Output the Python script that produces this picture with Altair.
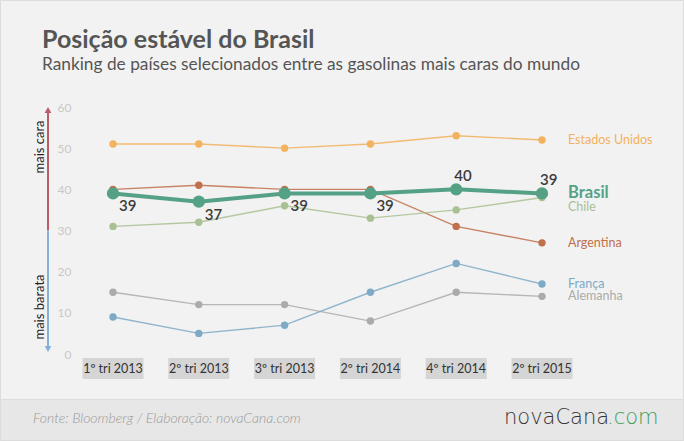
import altair as alt
import pandas as pd

# Quarters shown on the horizontal axis
periods = ["1º tri 2013", "2º tri 2013", "3º tri 2013", "2º tri 2014", "4º tri 2014", "2º tri 2015"]

# Position in the ranking of the most expensive gasoline (higher = more expensive)
estados_unidos = [51, 51, 50, 51, 53, 52]
argentina = [40, 41, 40, 40, 31, 27]
chile = [31, 32, 36, 33, 35, 38]
alemanha = [15, 12, 12, 8, 15, 14]
franca = [9, 5, 7, 15, 22, 17]
brasil = [39, 37, 39, 39, 40, 39]

countries = ["Estados Unidos", "Argentina", "Chile", "Alemanha", "França"]
series = [estados_unidos, argentina, chile, alemanha, franca]
colors = ["#f2b25e", "#c0704a", "#a9c192", "#ababab", "#7eaac6"]
brasil_color = "#55a185"

rows = []
for name, vals in zip(countries, series):
    for p, v in zip(periods, vals):
        rows.append({"pais": name, "periodo": p, "rank": v})
others = pd.DataFrame(rows)
br = pd.DataFrame({"pais": "Brasil", "periodo": periods, "rank": brasil})
last = pd.DataFrame({"pais": countries, "periodo": periods[-1],
                     "rank": [s[-1] for s in series]})
br_last = br.tail(1)

W, H = 482, 247
FONT = "Lato"

x_enc = alt.X("periodo:N", sort=periods, axis=None,
              scale=alt.Scale(domain=periods, range=[31, 460], padding=0))
y_scale = alt.Scale(domain=[0, 60], nice=False)
y_enc = alt.Y("rank:Q", scale=y_scale,
              axis=alt.Axis(values=[0, 10, 20, 30, 40, 50, 60], title=None,
                            domain=False, ticks=False, labelPadding=11,
                            labelColor="#c8c8c8", labelFontSize=12, labelFont=FONT,
                            gridColor="#dedede", gridWidth=1))
color_scale = alt.Scale(domain=countries, range=colors)

base_o = alt.Chart(others)
lines = base_o.mark_line(strokeWidth=1.4, opacity=0.85).encode(
    x=x_enc, y=y_enc, color=alt.Color("pais:N", scale=color_scale, legend=None))
pts = base_o.mark_point(filled=True, size=55, opacity=1).encode(
    x=x_enc, y="rank:Q", color=alt.Color("pais:N", scale=color_scale, legend=None))

base_b = alt.Chart(br)
b_line = base_b.mark_line(strokeWidth=4, color=brasil_color).encode(x=x_enc, y="rank:Q")
b_pts = base_b.mark_point(filled=True, size=150, opacity=1, color=brasil_color).encode(
    x=x_enc, y="rank:Q")
b_lab_below = base_b.transform_filter(
    alt.FieldOneOfPredicate(field="periodo", oneOf=periods[:4])
).mark_text(font=FONT, fontSize=15, fontWeight=600, color="#3a3a3a",
            align="left", dx=6, dy=13).encode(x=x_enc, y="rank:Q", text="rank:Q")
b_lab_above = base_b.transform_filter(
    alt.FieldOneOfPredicate(field="periodo", oneOf=periods[4:])
).mark_text(font=FONT, fontSize=15, fontWeight=600, color="#3a3a3a",
            align="left", dx=-2, dy=-13).encode(x=x_enc, y="rank:Q", text="rank:Q")

# Series names at the right end of each line
end_labels = alt.Chart(last).transform_filter(
    alt.datum.pais != "Chile"
).mark_text(font=FONT, fontSize=12.5, align="left", dx=26).encode(
    x=x_enc, y="rank:Q", text="pais:N",
    color=alt.Color("pais:N", scale=color_scale, legend=None))
chile_label = alt.Chart(last).transform_filter(
    alt.datum.pais == "Chile"
).mark_text(font=FONT, fontSize=12.5, align="left", dx=26, dy=9).encode(
    x=x_enc, y="rank:Q", text="pais:N",
    color=alt.Color("pais:N", scale=color_scale, legend=None))
br_label = alt.Chart(br_last).mark_text(
    font=FONT, fontSize=16.5, fontWeight="bold", align="left", dx=26, color=brasil_color
).encode(x=x_enc, y="rank:Q", text="pais:N")

# Category labels on grey boxes below the plot
cats = pd.DataFrame({"periodo": periods})
boxes = alt.Chart(cats).mark_point(
    shape="M-1,-0.344L1,-0.344L1,0.344L-1,0.344Z", size=3721, filled=True,
    color="#d5d5d5", opacity=1
).encode(x=x_enc, y=alt.value(H + 14.5))
box_text = alt.Chart(cats).mark_text(
    font=FONT, fontSize=12.5, color="#333333"
).encode(x=x_enc, y=alt.value(H + 15), text="periodo:N")

# Vertical arrow on the left: up = more expensive, down = cheaper
ann = pd.DataFrame({"a": [0]})
ann_base = alt.Chart(ann)
up_rule = ann_base.mark_rule(color="#bb5c68", strokeWidth=2).encode(
    x=alt.value(-34), y=alt.datum(59), y2=alt.datum(30))
dn_rule = ann_base.mark_rule(color="#86afd9", strokeWidth=2).encode(
    x=alt.value(-34), y=alt.datum(30), y2=alt.datum(1))
up_head = ann_base.mark_point(shape="triangle-up", filled=True, size=45,
                              color="#bb5c68", opacity=1).encode(
    x=alt.value(-34), y=alt.value(3))
dn_head = ann_base.mark_point(shape="triangle-down", filled=True, size=45,
                              color="#86afd9", opacity=1).encode(
    x=alt.value(-34), y=alt.value(H - 5))
cara = ann_base.mark_text(font=FONT, fontSize=13, angle=270, color="#222222").encode(
    x=alt.value(-42), y=alt.value(40), text=alt.value("mais cara"))
barata = ann_base.mark_text(font=FONT, fontSize=13, angle=270, color="#222222").encode(
    x=alt.value(-42), y=alt.value(200), text=alt.value("mais barata"))

# Frame, footer band, headings
frame = ann_base.mark_rect(fillOpacity=0, stroke="#dcdcdc", strokeWidth=1).encode(
    x=alt.value(-81.5), x2=alt.value(601.5), y=alt.value(-106.5), y2=alt.value(333.5))
footer = ann_base.mark_rect(fill="#e7e7e7", stroke="#dcdcdc", strokeWidth=1).encode(
    x=alt.value(-81.5), x2=alt.value(601.5), y=alt.value(292.5), y2=alt.value(333.5))
title = ann_base.mark_text(font=FONT, fontSize=25, fontWeight="bold", color="#555555",
                           align="left", baseline="alphabetic").encode(
    x=alt.value(-40), y=alt.value(-59), text=alt.value("Posição estável do Brasil"))
subtitle = ann_base.mark_text(font=FONT, fontSize=17.3, color="#555555",
                              align="left", baseline="alphabetic").encode(
    x=alt.value(-40), y=alt.value(-37),
    text=alt.value("Ranking de países selecionados entre as gasolinas mais caras do mundo"))
source = ann_base.mark_text(font=FONT, fontSize=14, fontStyle="italic", fontWeight=300,
                            color="#9a9a9a", align="left", baseline="middle").encode(
    x=alt.value(-49), y=alt.value(312), text=alt.value("Fonte: Bloomberg / Elaboração: novaCana.com"))
logo1 = ann_base.mark_text(font="DejaVu Sans", fontSize=21, fontWeight=200, color="#333333",
                           align="left", baseline="middle").encode(
    x=alt.value(422), y=alt.value(311), text=alt.value("novaCana"))
logo2 = ann_base.mark_text(font="DejaVu Sans", fontSize=21, fontWeight=200, color="#3f9b55",
                           align="left", baseline="middle").encode(
    x=alt.value(525), y=alt.value(311), text=alt.value(".com"))

chart = alt.layer(
    frame, footer, title, subtitle, source, logo1, logo2,
    up_rule, dn_rule, up_head, dn_head, cara, barata,
    lines, pts, b_line, b_pts, b_lab_below, b_lab_above,
    end_labels, chile_label, br_label, boxes, box_text
).properties(
    width=W, height=H,
    padding={"left": 82, "top": 107, "right": 120, "bottom": 87},
    autosize=alt.AutoSizeParams(type="none"),
    background="#f2f2f2",
).configure_view(stroke=None)

chart.save("out.html", embed_options={"renderer": "svg", "actions": False})
